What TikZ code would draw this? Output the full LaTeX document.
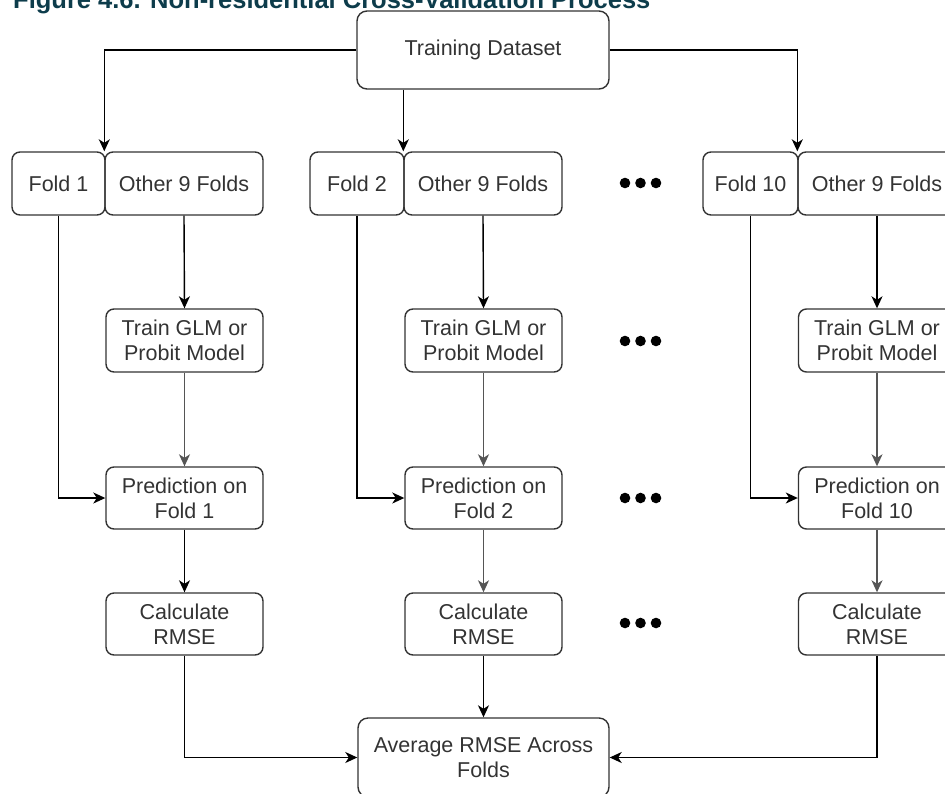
\documentclass[tikz,border=0pt]{standalone}
\usepackage{fontspec}
\setmainfont{Liberation Sans}
\usetikzlibrary{arrows.meta}
\definecolor{titlecol}{HTML}{0D3C4B}
\definecolor{boxtext}{HTML}{333333}
\definecolor{edgecol}{HTML}{333333}
\definecolor{greyline}{HTML}{555555}
\begin{document}
\begin{tikzpicture}[x=1pt,y=-1pt,
  box/.style={draw=edgecol, line width=1.4pt, rounded corners=8pt, inner sep=0pt,
    align=center, text=boxtext, font=\fontsize{21.5}{25}\selectfont,
    minimum width=157pt, minimum height=63pt},
  foldbox/.style={box, minimum width=94pt},
  arr/.style={draw=black, line width=1.4pt, -{Stealth[length=12pt,width=11pt,inset=3.5pt]}},
  garr/.style={arr, draw=greyline}]
\useasboundingbox (0,0) rectangle (945,793);
\clip (0,0) rectangle (945,793);

\node[anchor=base west, inner sep=0pt, text=titlecol,
  font=\fontsize{25.5}{30}\selectfont\bfseries] (title) at (13,8.5)
  {Figure 4.6. Non-residential Cross-Validation Process};

\node[box, minimum width=252pt, minimum height=78pt, rounded corners=10pt] (t) at (483,50) {Training Dataset};

% column 1
\node[foldbox, minimum width=93pt] (f1) at (58.5,183.5) {Fold 1};
\node[box, minimum width=158pt] (o1) at (184,183.5) {Other 9 Folds};
\node[box] (tr1) at (184.5,340.5) {Train GLM or\\Probit Model};
\node[box, minimum height=62pt] (p1) at (184.5,498) {Prediction on\\Fold 1};
\node[box, minimum height=62pt] (c1) at (184.5,624) {Calculate\\RMSE};

% column 2
\node[foldbox] (f2) at (357,183.5) {Fold 2};
\node[box, minimum width=158pt] (o2) at (483,183.5) {Other 9 Folds};
\node[box] (tr2) at (483.5,340.5) {Train GLM or\\Probit Model};
\node[box, minimum height=62pt] (p2) at (483.5,498) {Prediction on\\Fold 2};
\node[box, minimum height=62pt] (c2) at (483.5,624) {Calculate\\RMSE};

% column 3
\node[foldbox, minimum width=95pt] (f3) at (750.5,183.5) {Fold 10};
\node[box, minimum width=158pt] (o3) at (877,183.5) {Other 9 Folds};
\node[box] (tr3) at (877,340.5) {Train GLM or\\Probit Model};
\node[box, minimum height=62pt] (p3) at (877,498) {Prediction on\\Fold 10};
\node[box, minimum height=62pt] (c3) at (877,624) {Calculate\\RMSE};

\node[box, minimum width=251pt, minimum height=79pt, rounded corners=10pt] (avg) at (483.5,757.5) {Average RMSE Across\\Folds};

% dots
\foreach \yy in {183,341,498,623}
  \foreach \xx in {625,640.5,656}
    \fill (\xx,\yy) circle (5.3pt);

% connectors
\draw[arr] (t.west) -| (o1.north west);
\draw[arr] (t.south -| o2.north west) -- (o2.north west);
\draw[arr] (t.east) -| (o3.north west);

\draw[arr] (o1.south) -- (tr1.north);
\draw[arr] (o2.south) -- (tr2.north);
\draw[arr] (o3.south) -- (tr3.north);

\draw[garr] (tr1.south) -- (p1.north);
\draw[garr] (tr2.south) -- (p2.north);
\draw[garr] (tr3.south) -- (p3.north);

\draw[arr] (f1.south) |- (p1.west);
\draw[arr] (f2.south) |- (p2.west);
\draw[arr] (f3.south) |- (p3.west);

\draw[arr] (p1.south) -- (c1.north);
\draw[garr] (p2.south) -- (c2.north);
\draw[garr] (p3.south) -- (c3.north);

\draw[arr] (c1.south) |- (avg.west);
\draw[arr] (c2.south) -- (avg.north);
\draw[arr] (c3.south) |- (avg.east);
\end{tikzpicture}
\end{document}
